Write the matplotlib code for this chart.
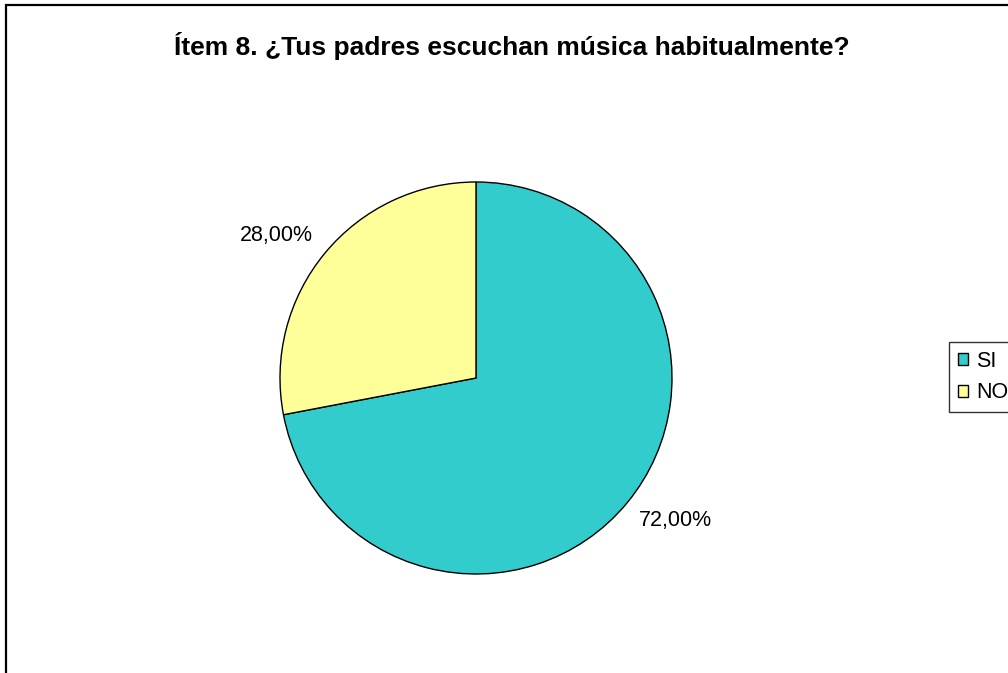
import numpy as np
import matplotlib.pyplot as plt
from matplotlib.patches import Rectangle

plt.rcParams['font.family'] = ['Liberation Sans', 'DejaVu Sans']

# respuestas al ítem 8
labels = ["SI", "NO"]
values = [72.0, 28.0]
colors = ["#33CCCC", "#FFFF99"]
title = "Ítem 8. ¿Tus padres escuchan música habitualmente?"

W, H = 1008, 673
fig = plt.figure(figsize=(W / 100, H / 100), dpi=100)

# marco del gráfico (sale por la derecha y por abajo)
fig.patches.append(Rectangle((6 / W, -0.1), 1.2, 1.1 - 5 / H, transform=fig.transFigure,
                             fill=False, edgecolor="black", linewidth=1.6, clip_on=False))

# círculo centrado en (476, 378) px con radio 196 px
cx, cy, r = 476, 378, 196
ax = fig.add_axes([(cx - r) / W, (H - cy - r) / H, 2 * r / W, 2 * r / H])
wedges, _, autotexts = ax.pie(
    values, colors=colors, startangle=90, counterclock=False,
    autopct=lambda p: f"{p:.2f}%".replace(".", ","), pctdistance=1.25,
    wedgeprops=dict(edgecolor="black", linewidth=1.0),
    textprops=dict(fontsize=15.5, color="black"))
ax.set_xlim(-1, 1); ax.set_ylim(-1, 1)

# etiquetas un poco giradas respecto al centro de cada sector
for w, t in zip(wedges, autotexts):
    ang = np.deg2rad((w.theta1 + w.theta2) / 2 + 4)
    t.set_position((1.25 * np.cos(ang), 1.25 * np.sin(ang)))

fig.text(512 / W, 1 - 46 / H, title, ha="center", va="center", fontsize=19, fontweight="bold")

# la leyenda queda cortada por el borde derecho
leg = fig.legend(wedges, labels, loc="upper left", bbox_to_anchor=(949 / W, 1 - 342 / H),
                 frameon=True, fancybox=False, edgecolor="black", fontsize=15.5,
                 handlelength=0.5, handleheight=0.5, handletextpad=0.35, labelspacing=0.5,
                 borderpad=0.4, borderaxespad=0)
leg.get_frame().set_linewidth(1.0)

fig.savefig("out.png", dpi=100)
